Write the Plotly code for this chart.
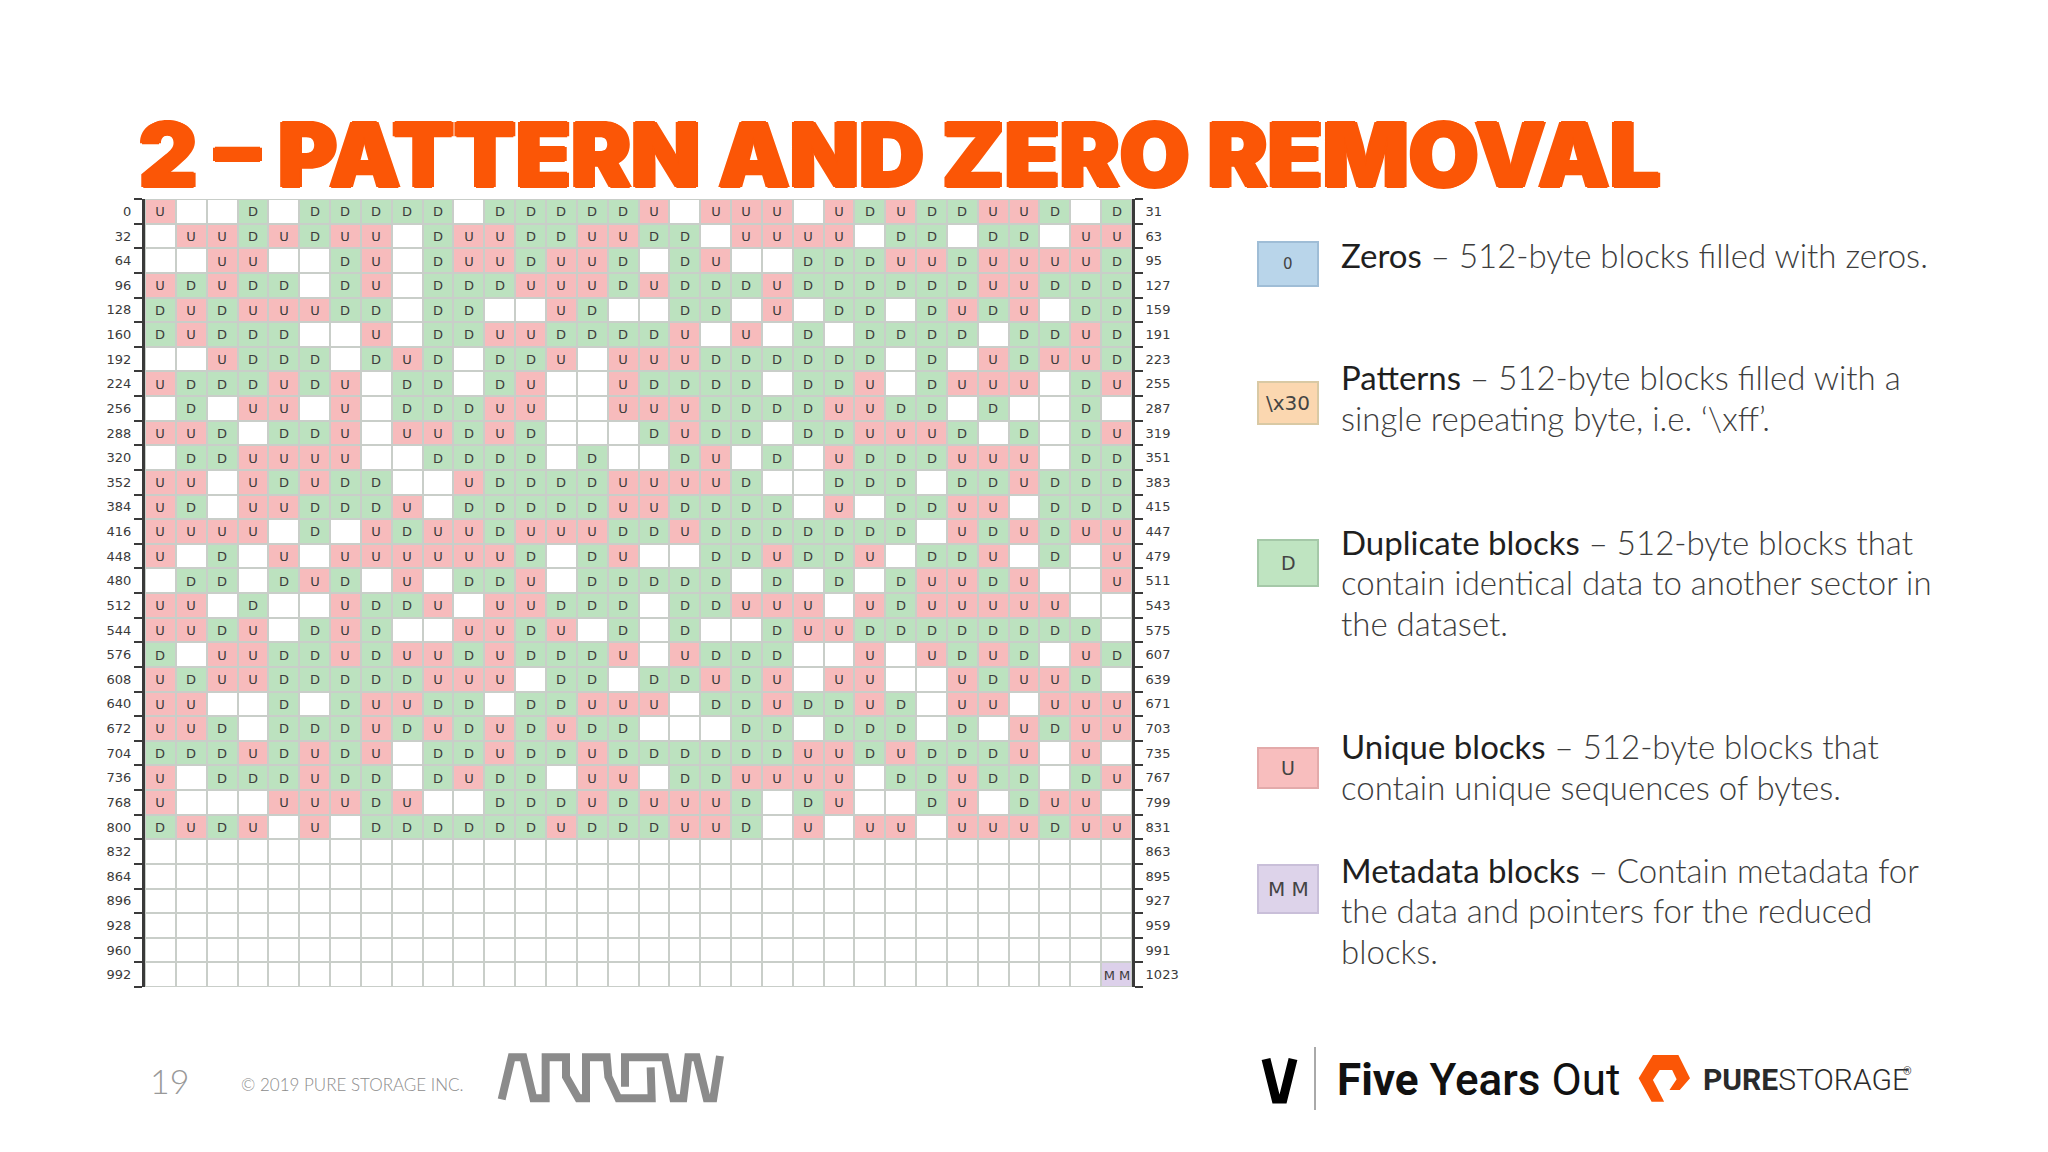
import plotly.graph_objects as go

# ---------- data ----------
ROWS = [
    "U__D_DDDDD_DDDDD" + "U_UUU_UDUDDUUD_D",
    "_UUDUDUU_DUUDDUU" + "DD_UUUU_DD_DD_UU",
    "__UU__DU_DUUDUUD" + "_DU__DDDUUDUUUUD",
    "UDUDD_DU_DDDUUUD" + "UDDDUDDDDDDUUDDD",
    "DUDUUUDD_DD__UD_" + "_DD_U_DD_DUDU_DD",
    "DUDDD__U_DDUUDDD" + "DU_U_D_DDDD_DDUD",
    "__UDDD_DUD_DDU_U" + "UUDDDDDD_D_UDUUD",
    "UDDDUDU_DD_DU__U" + "DDDD_DDU_DUUU_DU",
    "_D_UU_U_DDDUU__U" + "UUDDDDUUDD_D__D_",
    "UUD_DDU_UUDUD___" + "DUDD_DDUUUD_D_DU",
    "_DDUUUU__DDDD_D_" + "_DU_D_UDDDUUU_DD",
    "UU_UDUDD__UDDDDU" + "UUUD__DDD_DDUDDD",
    "UD_UUDDDU_DDDDDU" + "UDDDD_U_DDUU_DDD",
    "UUUU_D_UDUUDUUUD" + "DUDDDDDDD_UDUDUU",
    "U_D_U_UUUUUUD_DU" + "__DDUDDU_DDU_D_U",
    "_DD_DUD_U_DDU_DD" + "DDD_D_D_DUUDU__U",
    "UU_D__UDDU_UUDDD" + "_DDUUU_UDUUUUU__",
    "UUDU_DUD__UUDU_D" + "_D__DUUDDDDDDDD_",
    "D_UUDDUDUUDUDDDU" + "_UDDD__U_UDUD_UD",
    "UDUUDDDDDUUU_DD_" + "DDUDU_UU__UDUUD_",
    "UU__D_DUUDD_DDUU" + "U_DDUDDUD_UU_UUU",
    "UUD_DDDUDUDUDUDD" + "___DD_DDD_D_UDUU",
    "DDDUDUDU_DDUDDUD" + "DDDDDUUDUDDDU_U_",
    "U_DDDUDD_DUDD_UU" + "_DDUUUU_DDUDD_DU",
    "U___UUUDU__DDDUD" + "UUUD_DU__DU_DUU_",
    "DUDU_U_DDDDDDUDD" + "DUUD_U_UU_UUUDUU",
    "_" * 32, "_" * 32, "_" * 32, "_" * 32, "_" * 32,
    "_" * 31 + "M",
]
LEFT_LABELS = [str(i * 32) for i in range(32)]
RIGHT_LABELS = [str(i * 32 + 31) for i in range(32)]
CODES = {"_": 0, "D": 1, "U": 2, "M": 3}
CELL_TEXT = {"_": "", "D": "D", "U": "U", "M": "M M"}

TITLE = "2 – PATTERN AND ZERO REMOVAL"
LEGEND_LINES = [
    ("Zeros", " – 512-byte blocks filled with zeros.", 255),
    ("Patterns", " – 512-byte blocks filled with a", 377),
    ("", "single repeating byte, i.e. ‘\\xff’.", 418),
    ("Duplicate blocks", " – 512-byte blocks that", 542),
    ("", "contain identical data to another sector in", 582),
    ("", "the dataset.", 623),
    ("Unique blocks", " – 512-byte blocks that", 746),
    ("", "contain unique sequences of bytes.", 787),
    ("Metadata blocks", " – Contain metadata for", 870),
    ("", "the data and pointers for the reduced", 910),
    ("", "blocks.", 951),
]
SWATCHES = [
    ("0", 242, 286, "#b9d5ea", "#9fbdd6", 15),
    ("\\x30", 382, 424, "#fbd7b0", "#d9c9a4", 20),
    ("D", 540, 586, "#bfe4c1", "#a5c8a8", 19),
    ("U", 748, 788, "#f8bebe", "#e3aaaa", 19),
    ("M M", 865, 913, "#ddd3ea", "#c9bfd9", 20),
]

W, H = 2048, 1152
PL, PR, PT, PB = 145, 1132, 199, 987
TXT = "DejaVu Sans"
BODY = "Lato"


def px(x):
    return (x - PL) / (PR - PL)


def py(y):
    return 1 - (y - PT) / (PB - PT)


def poly(points, close=True):
    d = "M " + " L ".join(f"{px(x):.5f},{py(y):.5f}" for x, y in points)
    return d + (" Z" if close else "")


z = [[CODES[c] for c in r] for r in ROWS]
text = [[CELL_TEXT[c] for c in r] for r in ROWS]
row_ids = list(range(len(ROWS)))
boundaries = [i - 0.5 for i in range(len(ROWS) + 1)]

fig = go.Figure()
fig.add_trace(go.Heatmap(
    z=z, text=text, texttemplate="%{text}",
    textfont=dict(family=TXT, size=13, color="#3c3c3c"),
    zmin=0, zmax=3, showscale=False, xgap=2, ygap=2, hoverinfo="skip",
    colorscale=[[0, "#ffffff"], [0.25, "#ffffff"], [0.25, "#bce2bf"], [0.5, "#bce2bf"],
                [0.5, "#f7bbbc"], [0.75, "#f7bbbc"], [0.75, "#dcd0ea"], [1, "#dcd0ea"]],
))
fig.add_trace(go.Scatter(x=[0] * len(row_ids), y=row_ids, yaxis="y2", mode="markers",
                         marker=dict(opacity=0), hoverinfo="skip", showlegend=False))

axis_common = dict(
    range=[31.5, -0.5], showgrid=False, zeroline=False, showline=True,
    linecolor="#3a3a3a", linewidth=3, tickmode="array", tickvals=row_ids, ticks="",
    tickfont=dict(family=TXT, size=13, color="#3a3a3a"), ticklabelstandoff=8,
    minor=dict(tickmode="array", tickvals=boundaries, ticks="outside", ticklen=8,
               tickcolor="#3a3a3a", tickwidth=2),
)

shapes, annotations = [], []


def note(x, y, s, size, color="#222", family=BODY, xanchor="left", weight=None, shadow=None):
    font = dict(family=family, size=size, color=color)
    if weight:
        font["weight"] = weight
    if shadow:
        font["shadow"] = shadow
    annotations.append(dict(x=px(x), y=py(y), xref="paper", yref="paper", text=s, showarrow=False,
                            xanchor=xanchor, yanchor="middle", align="left", font=font))


TITLE_COLOR = "#fb5606"
note(137, 155, TITLE, 90, color=TITLE_COLOR, family="Inter", weight=900,
     shadow=f"2px 0 0 {TITLE_COLOR}, -2px 0 0 {TITLE_COLOR}, 0 1px 0 {TITLE_COLOR}, 0 -1px 0 {TITLE_COLOR}")

for label, y0, y1, fill, line, size in SWATCHES:
    shapes.append(dict(type="rect", xref="paper", yref="paper", x0=px(1258), x1=px(1318),
                       y0=py(y0), y1=py(y1), fillcolor=fill, line=dict(color=line, width=2)))
    note(1288, (y0 + y1) / 2, label, size, color="#444", family=TXT, xanchor="center")

for lead, rest, y in LEGEND_LINES:
    s = (f'<span style="font-weight:400;fill:#1f1f1f">{lead}</span>' if lead else "") + \
        f'<span style="font-weight:300">{rest}</span>'
    note(1339, y, s, 33, color="#3d3d3d", weight=300)

# footer
note(148, 1080, "19", 34, color="#999999", family=BODY, weight=300)
note(239, 1084, "© 2019 PURE STORAGE INC.", 17, color="#8c8c8c", family=BODY, weight=300)

arrow_a = [(65, 208), (95, 82), (130, 82), (160, 205), (197, 205), (197, 82), (258, 82), (258, 140),
           (295, 205), (318, 205), (318, 82), (380, 82), (385, 140), (415, 205), (515, 205), (512, 112)]
arrow_b = [(435, 170), (435, 82), (555, 82), (580, 205), (610, 205), (625, 82), (650, 82),
           (680, 205), (700, 205), (720, 78)]
for seg in (arrow_a, arrow_b):
    shapes.append(dict(type="path", xref="paper", yref="paper", fillcolor="rgba(0,0,0,0)",
                       path=poly([(480 + a / 3, 1030 + b / 3) for a, b in seg], close=False),
                       line=dict(color="#8b8b8b", width=8)))

shapes.append(dict(type="path", xref="paper", yref="paper", fillcolor="rgba(0,0,0,0)",
                   path=poly([(1266, 1059), (1276, 1099), (1283, 1099), (1293, 1059)], close=False),
                   line=dict(color="#000000", width=9)))
shapes.append(dict(type="line", xref="paper", yref="paper", x0=px(1315), x1=px(1315),
                   y0=py(1047), y1=py(1110), line=dict(color="#555555", width=1)))
note(1335, 1080, "<b>Five</b> <span style='font-weight:500'>Years</span> <span style='font-weight:400'>Out</span>",
     44, color="#111111", family="Roboto")

hex_pts = [(925, 75), (982, 75), (1008, 145), (985, 180), (962, 180), (978, 148), (968, 120), (940, 120),
           (925, 150), (950, 215), (922, 215), (893, 145)]
shapes.append(dict(type="path", xref="paper", yref="paper", fillcolor="#fb5606", line=dict(width=0),
                   path=poly([(1240 + a / 2.24, 1030 + b / 3) for a, b in hex_pts])))
note(1701, 1079, "<b>PURE</b><span style='font-weight:300'>STORAGE</span>", 30, color="#2a2a2a", family="Roboto")
note(1901, 1071, "®", 11, color="#444", family="Roboto")

fig.update_layout(
    width=W, height=H, autosize=False, showlegend=False,
    margin=dict(l=PL, r=W - PR, t=PT, b=H - PB, pad=0),
    paper_bgcolor="#ffffff", plot_bgcolor="#c9cec9",
    xaxis=dict(range=[-0.5, 31.5], visible=False),
    yaxis=dict(ticktext=LEFT_LABELS, **axis_common),
    yaxis2=dict(ticktext=RIGHT_LABELS, overlaying="y", side="right", **axis_common),
    shapes=shapes, annotations=annotations,
)
fig.write_html("out.html", config={"displayModeBar": False},
               post_script="document.body.style.margin='0';")
